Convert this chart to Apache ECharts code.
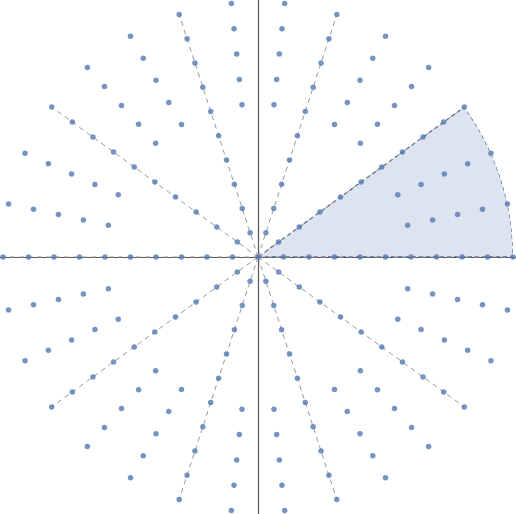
<!DOCTYPE html>
<html>
<head>
<meta charset="utf-8">
<script src="https://cdn.jsdelivr.net/npm/echarts@6/dist/echarts.min.js"></script>
<style>html,body{margin:0;padding:0;background:#fff}#chart{width:516px;height:514px}</style>
</head>
<body>
<div id="chart"></div>
<script>
// rays on the dashed lines carry points at every radius, the rest only the outer ones
var dashedAngles = [0, 36, 72, 108, 144, 180, 216, 252, 288, 324];
var innerRadii = [1, 2, 3, 4, 5, 6, 7, 8, 9, 10];
var otherAngles = [12, 24, 48, 60, 84, 96, 120, 132, 156, 168, 192, 204, 228, 240, 264, 276, 300, 312, 336, 348];
var outerRadii = [6, 7, 8, 9, 10];
var sectorFrom = 0, sectorTo = 36, maxR = 10;

var pts = [[0, 0]];
dashedAngles.forEach(function (a) { innerRadii.forEach(function (r) { pts.push([r, a]); }); });
otherAngles.forEach(function (a) { outerRadii.forEach(function (r) { pts.push([r, a]); }); });

var sector = [[0, sectorFrom]];
for (var a = sectorFrom; a <= sectorTo; a++) sector.push([maxR, a]);
sector.push([0, sectorTo]);

var series = [{
  type: 'line', coordinateSystem: 'polar', data: sector, symbol: 'none', silent: true,
  lineStyle: { color: '#4f6488', width: 1.3, type: [4, 3] },
  areaStyle: { color: 'rgba(94,129,181,0.3)', origin: 'start' }, z: 1
}];
dashedAngles.forEach(function (a) {
  series.push({
    type: 'line', coordinateSystem: 'polar', data: [[0, a], [maxR, a]], symbol: 'none', silent: true,
    lineStyle: { color: '#9a9a9a', width: 1, type: [5, 4] }, z: 2
  });
});
series.push({
  type: 'scatter', coordinateSystem: 'polar', data: pts, symbolSize: 5.5,
  itemStyle: { color: '#5479b3' }, z: 5
});

var chart = echarts.init(document.getElementById('chart'));
chart.setOption({
  animation: false,
  grid: { left: 0, right: 0, top: 0, bottom: 0 },
  xAxis: { type: 'value', min: -10.12, max: 10.12, splitLine: { show: false }, axisTick: { show: false },
    axisLabel: { show: false }, axisLine: { onZero: true, lineStyle: { color: '#555', width: 1.2 } } },
  yAxis: { type: 'value', min: -10.08, max: 10.08, splitLine: { show: false }, axisTick: { show: false },
    axisLabel: { show: false }, axisLine: { onZero: true, lineStyle: { color: '#555', width: 1.2 } } },
  polar: { center: [258, 257], radius: 255 },
  angleAxis: { type: 'value', min: 0, max: 360, startAngle: 0, clockwise: false, show: false },
  radiusAxis: { type: 'value', min: 0, max: maxR, show: false },
  series: series
});
</script>
</body>
</html>
